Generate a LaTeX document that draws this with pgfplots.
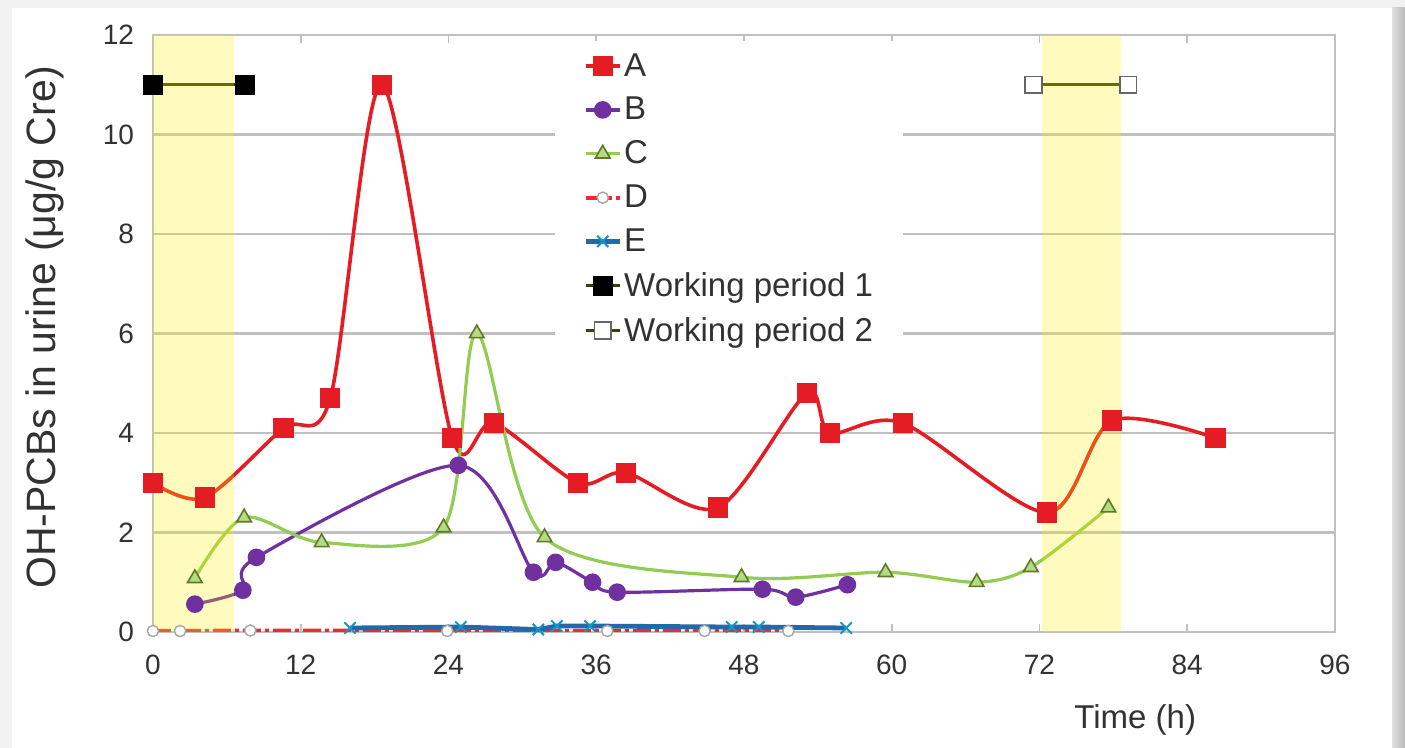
\documentclass[border=0pt]{standalone}
\usepackage{fontspec}
\setmainfont{Liberation Sans}
\usepackage{pgfplots}
\pgfplotsset{compat=1.18}

\definecolor{cA}{RGB}{230,28,36}
\definecolor{cB}{RGB}{112,48,160}
\definecolor{cC}{RGB}{146,204,80}
\definecolor{cCm}{RGB}{96,120,40}
\definecolor{cD}{RGB}{235,45,50}
\definecolor{cE}{RGB}{35,105,170}
\definecolor{wp}{RGB}{60,60,15}
\definecolor{txt}{RGB}{50,50,50}
\definecolor{gridc}{RGB}{192,192,192}

\begin{document}
\begin{tikzpicture}
% card with soft shadow
\fill[gray!10] (0,0) rectangle (702.5pt,374pt);
\fill[white] (6pt,0) rectangle (696pt,370pt);
\shade[left color=gray!25,right color=gray!55] (696pt,0) rectangle (702.5pt,370pt);
\path[use as bounding box] (0,0) rectangle (702.5pt,374pt);

\begin{axis}[
  at={(76.5pt,58pt)}, anchor=south west,
  scale only axis, width=591pt, height=298.5pt,
  xmin=0, xmax=96, ymin=0, ymax=12,
  xtick={0,12,...,96}, ytick={0,2,...,12},
  ymajorgrids, grid style={gridc, line width=1.2pt},
  axis line style={gridc, line width=1pt},
  tick style={gridc, line width=0.8pt}, major tick length=4pt,
  /pgf/number format/assume math mode=true,
  tick label style={font=\fontsize{14}{16}\selectfont, text=txt},
  xticklabel style={yshift=-8pt},
  yticklabel style={xshift=-6pt},
  xlabel={Time (h)},
  xlabel style={at={(axis description cs:0.831,0)}, anchor=north, yshift=-33pt,
    font=\fontsize{16.5}{18}\selectfont, text=txt},
  ylabel={OH-PCBs in urine (μg/g Cre)},
  ylabel style={at={(axis description cs:-0.0914,0.51)}, anchor=center,
    font=\fontsize{20.5}{22}\selectfont, text=txt},
  legend cell align=left,
  legend style={at={(axis description cs:0.340,0.990)}, anchor=north west,
    fill=white, draw=none, font=\fontsize{16.5}{18}\selectfont, text=txt,
    inner xsep=14pt, inner ysep=4pt, row sep=5pt,
    nodes={inner xsep=1pt}},
  legend image code/.code={
    \draw[mark repeat=2,mark phase=2] plot coordinates {(0cm,0cm) (0.3cm,0cm) (0.6cm,0cm)};},
]
% A
\addplot[cA, line width=1.8pt, smooth, tension=0.5, mark=square*, mark size=4.2pt,
  mark options={solid, fill=cA}] coordinates {
  (0,3.0) (4.2,2.7) (10.6,4.1) (14.4,4.7) (18.6,11.0) (24.3,3.9) (27.7,4.2)
  (34.5,3.0) (38.4,3.2) (45.9,2.5) (53.1,4.8) (55.0,4.0) (60.9,4.2)
  (72.6,2.4) (77.9,4.25) (86.3,3.9)};
\addlegendentry{A}
% B
\addplot[cB, line width=1.6pt, smooth, tension=0.5, mark=*, mark size=3.6pt,
  mark options={solid, fill=cB}] coordinates {
  (3.4,0.56) (7.3,0.84) (8.4,1.5) (24.8,3.35) (30.9,1.2) (32.7,1.4)
  (35.7,1.0) (37.7,0.8) (49.5,0.86) (52.2,0.7) (56.4,0.95)};
\addlegendentry{B}
% C
\addplot[cC, line width=1.6pt, smooth, tension=0.5, mark=triangle*, mark size=4.2pt,
  mark options={solid, fill=cC!70!white, draw=cCm, line width=0.8pt}] coordinates {
  (3.4,1.08) (7.4,2.3) (13.7,1.8) (23.6,2.1) (26.3,6.0) (31.8,1.9)
  (47.8,1.1) (59.5,1.2) (66.9,1.0) (71.3,1.3) (77.6,2.5)};
\addlegendentry{C}
% D
\addplot[cD, line width=2pt, dash pattern=on 9pt off 2pt on 2pt off 2pt, mark=*, mark size=2.8pt,
  mark options={solid, fill=white, draw=gray!70, line width=0.7pt}] coordinates {
  (0,0.02) (2.2,0.02) (7.9,0.03) (23.9,0.02) (36.9,0.02) (44.8,0.02) (51.6,0.02)};
\addlegendentry{D}
% E
\addplot[cE, line width=2.4pt, mark=x, mark size=4pt,
  mark options={solid, draw=cE!70!cyan, line width=1pt}] coordinates {
  (16,0.08) (25,0.1) (31.3,0.05) (32.8,0.12) (35.5,0.12) (47,0.1)
  (49.2,0.1) (56.3,0.08)};
\addlegendentry{E}
% working periods
\addplot[wp, line width=1.6pt, mark=square*, mark size=4.2pt,
  mark options={solid, fill=black, draw=black}] coordinates {(0,11) (7.5,11)};
\addlegendentry{Working period 1}
\addplot[wp, line width=1.6pt, mark=square*, mark size=4.2pt,
  mark options={solid, fill=white, draw=gray!80!black, line width=0.8pt}] coordinates {(71.5,11) (79.2,11)};
\addlegendentry{Working period 2}
% translucent working-period shading laid over the series
\fill[yellow, opacity=0.25] (axis cs:0,0) rectangle (axis cs:6.6,12);
\fill[yellow, opacity=0.25] (axis cs:72.2,0) rectangle (axis cs:78.6,12);
\end{axis}
\end{tikzpicture}
\end{document}
